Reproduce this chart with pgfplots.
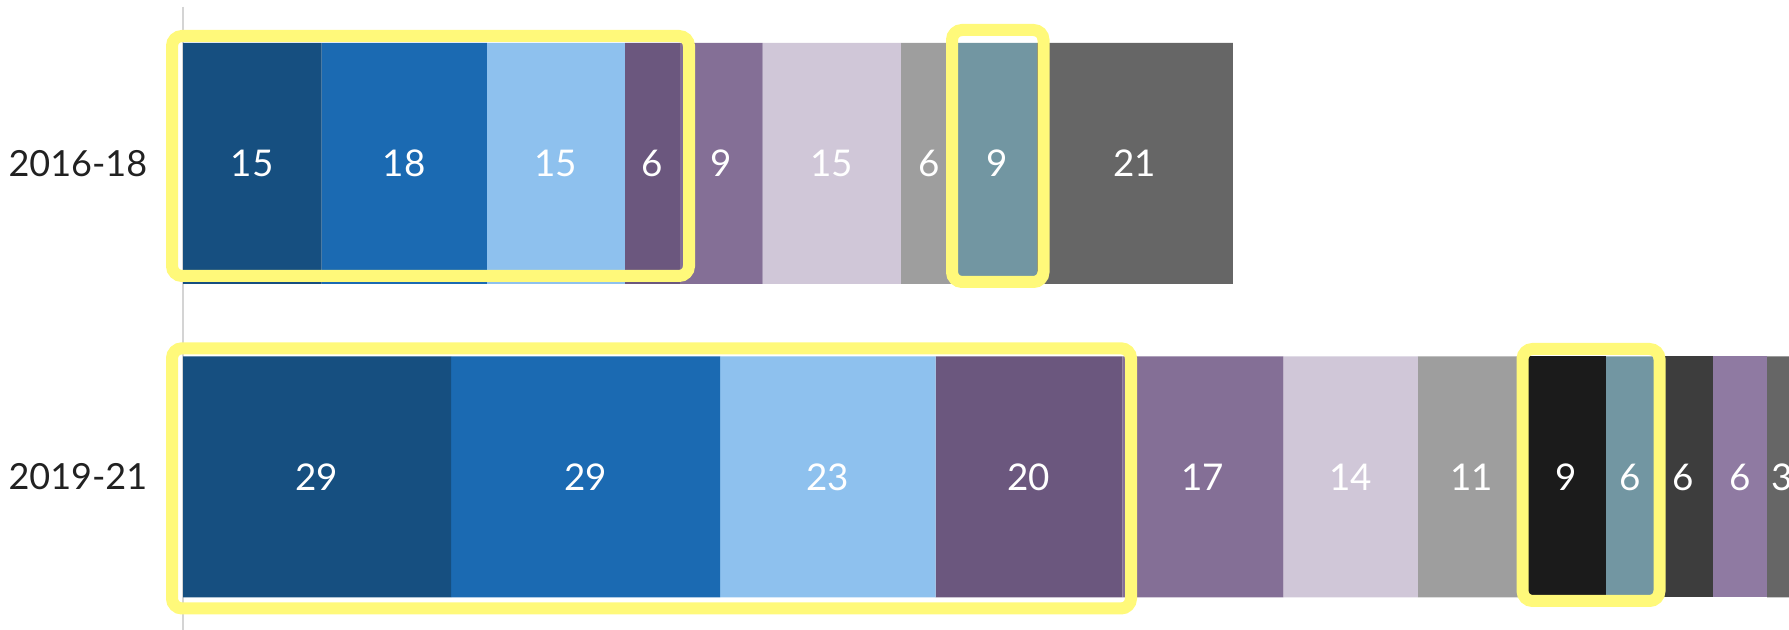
\documentclass[border=0pt]{standalone}
\usepackage{fontspec}
\setmainfont{Lato}
\usepackage{pgfplots}
\pgfplotsset{compat=1.18}
\definecolor{cDarkBlue}{HTML}{164F80}
\definecolor{cBlue}{HTML}{1B6AB2}
\definecolor{cLightBlue}{HTML}{8EC1EE}
\definecolor{cDarkPurple}{HTML}{6B577E}
\definecolor{cPurple}{HTML}{846F96}
\definecolor{cLavender}{HTML}{D0C7D8}
\definecolor{cGray}{HTML}{9E9E9E}
\definecolor{cBlack}{HTML}{1B1B1B}
\definecolor{cTeal}{HTML}{7296A2}
\definecolor{cDarkGray}{HTML}{3D3D3D}
\definecolor{cPurpleTwo}{HTML}{8F7AA2}
\definecolor{cGraySix}{HTML}{666666}
\definecolor{cYellow}{HTML}{FFF97A}
\definecolor{cAxis}{HTML}{D4D4D4}
\begin{document}
\begin{tikzpicture}
\begin{axis}[
  at={(45.75pt,-0.9375pt)}, anchor=south west,
  scale only axis, width=417.15pt, height=156.75pt,
  xmin=0, xmax=180, ymin=-0.5, ymax=1.5, y dir=reverse,
  xbar stacked, bar width=60.25pt,
  axis x line=none, axis y line*=left,
  y axis line style={draw=cAxis, line width=0.35pt, -},
  ytick={0,1}, yticklabels={2016-18,2019-21},
  major tick length=0pt,
  /pgf/number format/assume math mode=true,
  yticklabel style={inner sep=0pt, xshift=-8.75pt, text=black!87, font=\fontsize{9}{11}\selectfont},
  point meta=explicit symbolic,
  nodes near coords,
  every node near coord/.append style={text=white, font=\fontsize{9.2}{11}\selectfont},
  every axis plot/.append style={draw=none},
]
\addplot[fill=cDarkBlue] coordinates {(14.96,0) [15] (28.91,1) [29]};
\addplot[fill=cBlue] coordinates {(17.83,0) [18] (29.02,1) [29]};
\addplot[fill=cLightBlue] coordinates {(14.89,0) [15] (23.26,1) [23]};
\addplot[fill=cDarkPurple] coordinates {(5.93,0) [6] (20.14,1) [20]};
\addplot[fill=cPurple] coordinates {(8.92,0) [9] (17.37,1) [17]};
\addplot[fill=cLavender] coordinates {(14.92,0) [15] (14.50,1) [14]};
\addplot[fill=cGray] coordinates {(6.15,0) [6] (11.68,1) [11]};
\addplot[fill=cBlack] coordinates {(0,0) [] (8.63,1) [9]};
\addplot[fill=cTeal] coordinates {(8.52,0) [9] (5.18,1) [6]};
\addplot[fill=cDarkGray] coordinates {(0,0) [] (6.36,1) [6]};
\addplot[fill=cPurpleTwo] coordinates {(0,0) [] (5.83,1) [6]};
\addplot[fill=cGraySix] coordinates {(21.14,0) [21] (3.2,1) [3]};
\end{axis}
\begin{scope}[line width=3pt, draw=cYellow, rounded corners=2.5pt]
\draw (43pt,148.5pt) rectangle (172.25pt,88.5pt);
\draw (238pt,150pt) rectangle (260.875pt,87pt);
\draw (43pt,70.425pt) rectangle (282.75pt,5.375pt);
\draw (380.625pt,70.25pt) rectangle (414.875pt,7.25pt);
\end{scope}
\pgfresetboundingbox
\path[use as bounding box] (0pt,0pt) rectangle (447.25pt,157.5pt);
\end{tikzpicture}
\end{document}
